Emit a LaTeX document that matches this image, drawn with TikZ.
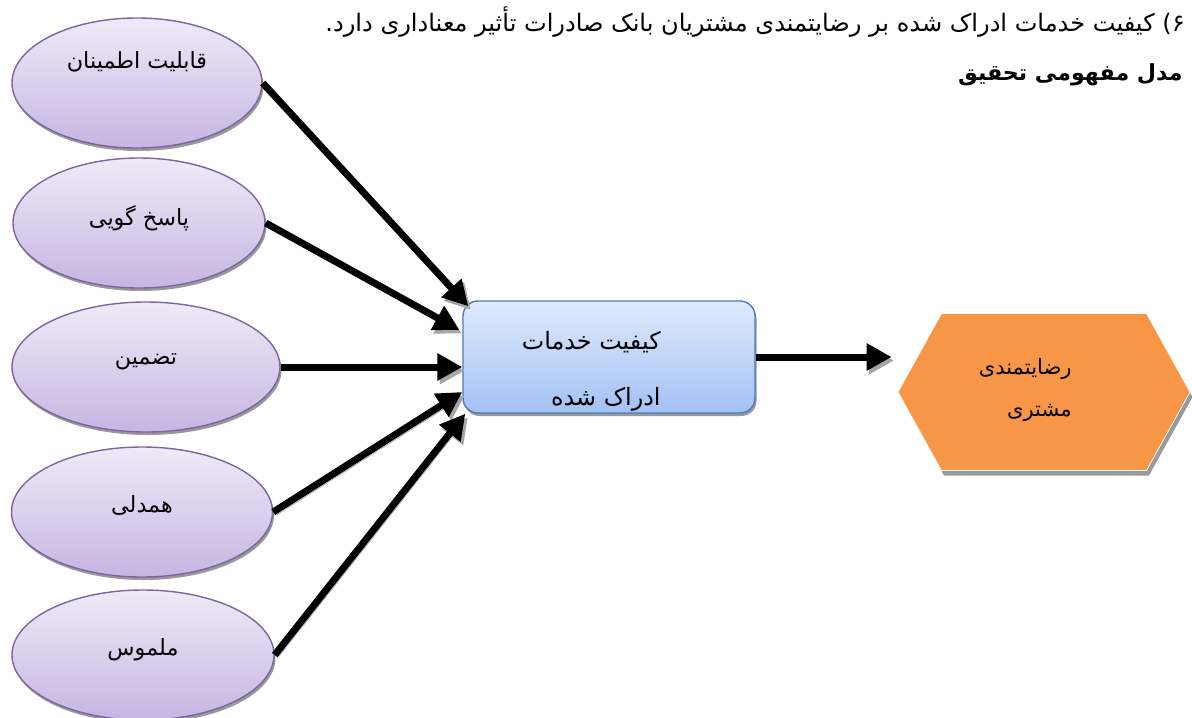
\documentclass[tikz,border=0pt]{standalone}
\usepackage{fontspec}
\usepackage{xcolor}
\usepackage{tikz}
\usetikzlibrary{shapes,shapes.geometric,shapes.symbols,arrows.meta,positioning,calc,shadows}
\newfontfamily\arabicfont[Script=Arabic]{DejaVu Sans}
\TeXXeTstate=1
\definecolor{factorline}{HTML}{8064A2}
\definecolor{factortop}{HTML}{EFEAF8}
\definecolor{factorbottom}{HTML}{C7B5E2}
\definecolor{boxline}{HTML}{4A7EBB}
\definecolor{boxtop}{HTML}{DFE9FC}
\definecolor{boxbottom}{HTML}{A3C1F4}
\definecolor{satfill}{HTML}{F79646}

\begin{document}
\begin{tikzpicture}[
    factor/.style={ellipse, draw=factorline, thick, top color=factortop, bottom color=factorbottom, minimum width=5.2cm, minimum height=2.6cm, inner sep=0pt, text depth=0.3cm, font=\arabicfont\fontsize{12.7}{14}\selectfont, drop shadow={shadow xshift=0.03cm, shadow yshift=-0.06cm, fill=black!40, opacity=1}},
    pqbox/.style={rectangle, draw=boxline, thick, rounded corners=0.3cm, top color=boxtop, bottom color=boxbottom, minimum width=5.84cm, minimum height=2.24cm, drop shadow={shadow xshift=0.03cm, shadow yshift=-0.06cm, fill=black!40, opacity=1}},
    satbox/.style={signal, signal to=west and east, signal pointer angle=122, fill=satfill, draw=white, minimum width=5.84cm, minimum height=3.14cm, inner sep=0pt, drop shadow={shadow xshift=0.05cm, shadow yshift=-0.1cm, fill=black!40, opacity=1}},
    inlabel/.style={align=right, inner sep=0pt, anchor=east},
    arrow/.style={-{Triangle[length=0.5cm, width=0.52cm]}, line width=0.14cm, draw=black, preaction={draw=black!35, transform canvas={shift={(0.05,-0.07)}}}}
]
    \useasboundingbox (0,0) rectangle (23.84,-14.34);

    % title lines
    \node [anchor=east, inner sep=0pt, font=\arabicfont\fontsize{13.7}{16}\selectfont] (hyp) at (23.7,-0.44) {\beginR ۶) کیفیت خدمات ادراک شده بر رضایتمندی مشتریان بانک صادرات تأثیر معناداری دارد.\endR};
    \node [anchor=east, inner sep=0pt, font=\arabicfont\bfseries\fontsize{12.6}{15}\selectfont] (heading) at (23.66,-1.5) {\beginR مدل مفهومی تحقیق\endR};

    % dimensions of service quality
    \node [factor, minimum width=5.0cm, text depth=0.9cm] (f1) at (2.74,-1.66) {\beginR قابلیت اطمینان\endR};
    \node [factor, minimum width=5.04cm] (f2) at (2.78,-4.46) {\beginR پاسخ گویی\endR};
    \node [factor, minimum width=5.36cm] (f3) at (2.92,-7.34) {\beginR تضمین\endR};
    \node [factor, minimum width=5.22cm] (f4) at (2.84,-10.24) {\beginR همدلی\endR};
    \node [factor, minimum width=5.24cm] (f5) at (2.86,-13.1) {\beginR ملموس\endR};

    % perceived quality and satisfaction
    \node [pqbox] (pq) at (12.18,-7.14) {};
    \node [inlabel, font=\arabicfont\fontsize{13.6}{32}\selectfont] (pqtext) at (13.22,-7.42) {\beginR کیفیت خدمات\endR\\\beginR ادراک شده\endR};
    \node [satbox] (sat) at (20.88,-7.84) {};
    \node [inlabel, font=\arabicfont\fontsize{12}{24}\selectfont] (sattext) at (21.44,-7.8) {\beginR رضایتمندی\endR\\\beginR مشتری\endR};

    \draw [arrow] (f1.east) -- ([shift={(0.12,-0.12)}]pq.north west);
    \draw [arrow] (f2.east) -- ([shift={(-0.06,0.54)}]pq.west);
    \draw [arrow] (f3.east) -- (f3.east -| pq.west);
    \draw [arrow] (f4.east) -- ([yshift=-0.7cm]pq.west);
    \draw [arrow] (f5.east) -- ([shift={(0.06,0)}]pq.south west);
    \draw [arrow, shorten >=0.12cm] (pq.east) -- (sat.west |- pq.east);
\end{tikzpicture}
\end{document}
